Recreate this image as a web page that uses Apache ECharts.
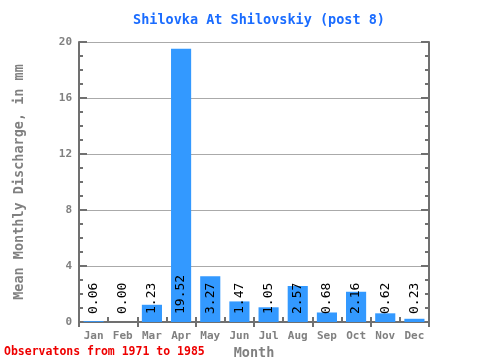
<!DOCTYPE html>
<html><head><meta charset="utf-8">
<script src="https://cdn.jsdelivr.net/npm/echarts@6/dist/echarts.min.js"></script>
<style>html,body{margin:0;padding:0;background:#fff}#c{width:480px;height:360px}</style>
</head><body><div id="c"></div>
<script>
var months = ['Jan','Feb','Mar','Apr','May','Jun','Jul','Aug','Sep','Oct','Nov','Dec'];
var discharge = [0.06, 0.00, 1.23, 19.52, 3.27, 1.47, 1.05, 2.57, 0.68, 2.16, 0.62, 0.23];
var yTicks = [0, 4, 8, 12, 16, 20];
var titleText = 'Shilovka At Shilovskiy (post 8)';
var footText = 'Observatons from 1971 to 1985';

var F = 'DejaVu Sans Mono';
var axisCol = '#707070';
var chart = echarts.init(document.getElementById('c'));
chart.setOption({
  animation: false,
  backgroundColor: '#fff',
  title: {
    text: titleText, left: 254, top: 8, textAlign: 'center',
    textStyle: {fontFamily: F, fontSize: 13.5, fontWeight: 'bold', color: '#1a6cff'}
  },
  graphic: [{
    type: 'text', left: 4, top: 346,
    style: {text: footText, fontFamily: F, fontSize: 11.5, fontWeight: 'bold', fill: '#ee0000'}
  }],
  grid: {left: 79, right: 51, top: 42, bottom: 38, containLabel: false, outerBoundsMode: 'none'},
  xAxis: [{
    type: 'category', data: months, position: 'bottom',
    name: 'Month', nameLocation: 'middle', nameGap: 19,
    nameTextStyle: {fontFamily: F, fontSize: 13.5, fontWeight: 'bold', color: '#808080'},
    axisLine: {lineStyle: {color: axisCol, width: 2}},
    axisTick: {show: true, inside: true, length: 5, alignWithLabel: false, lineStyle: {color: axisCol, width: 2}},
    axisLabel: {fontFamily: F, fontSize: 11, fontWeight: 'bold', color: '#808080', margin: 9}
  }, {
    type: 'category', data: months, position: 'top',
    axisLine: {lineStyle: {color: axisCol, width: 2}},
    axisTick: {show: true, inside: true, length: 5, lineStyle: {color: axisCol, width: 2}},
    axisLabel: {show: false}
  }],
  yAxis: [{
    type: 'value', min: 0, max: 20, interval: 4, position: 'left',
    name: 'Mean Monthly Discharge, in mm', nameLocation: 'middle', nameGap: 53,
    nameTextStyle: {fontFamily: F, fontSize: 13.5, fontWeight: 'bold', color: '#808080'},
    axisLine: {show: true, lineStyle: {color: axisCol, width: 2}},
    axisTick: {show: true, inside: true, length: 8, lineStyle: {color: axisCol, width: 2}},
    minorTick: {show: true, splitNumber: 4, length: 4, lineStyle: {color: axisCol, width: 2}},
    axisLabel: {fontFamily: F, fontSize: 11, fontWeight: 'bold', color: '#808080', margin: 7},
    splitLine: {show: true, lineStyle: {color: '#aaaaaa', width: 1}}
  }, {
    type: 'value', min: 0, max: 20, interval: 4, position: 'right',
    axisLine: {show: true, lineStyle: {color: axisCol, width: 2}},
    axisTick: {show: true, inside: true, length: 8, lineStyle: {color: axisCol, width: 2}},
    minorTick: {show: true, splitNumber: 4, length: 4, lineStyle: {color: axisCol, width: 2}},
    axisLabel: {show: false},
    splitLine: {show: false}
  }],
  series: [{
    type: 'bar', data: discharge, xAxisIndex: 0, yAxisIndex: 0,
    barCategoryGap: '31%',
    itemStyle: {color: '#3399ff'},
    label: {
      show: true, position: 'insideBottom', rotate: 90, align: 'left', verticalAlign: 'middle',
      distance: 8, fontFamily: F, fontSize: 13, color: '#000',
      formatter: function(p){ return p.value.toFixed(2); }
    }
  }]
});
</script></body></html>
